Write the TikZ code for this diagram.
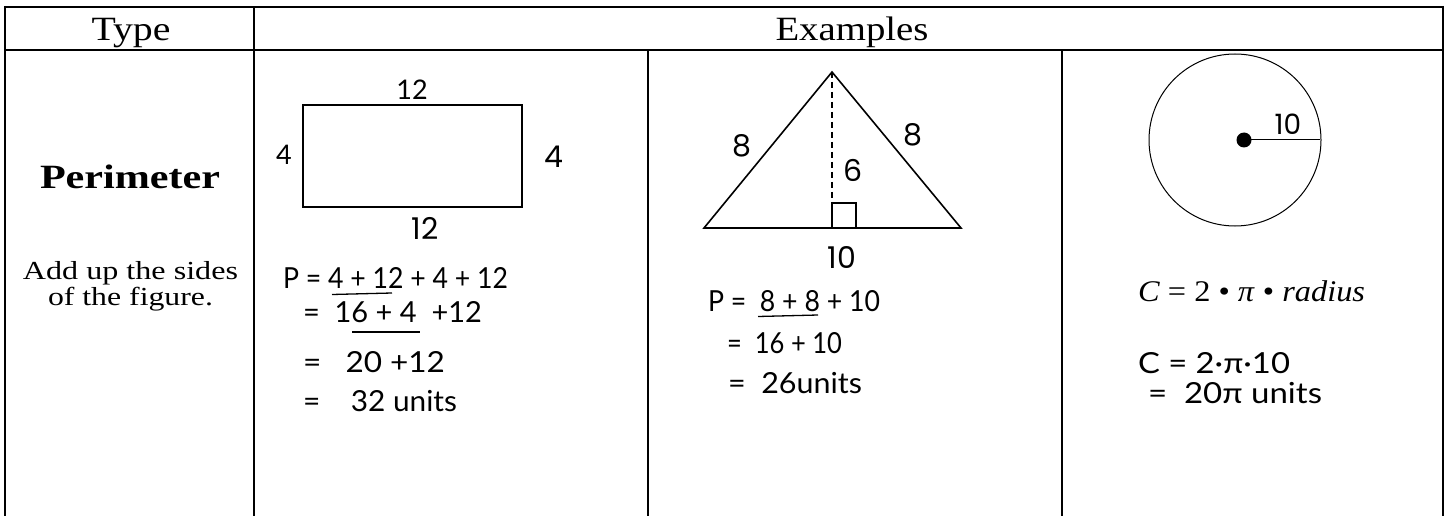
\documentclass[tikz,border=0pt]{standalone}
\usepackage{fontspec}
\usepackage{graphicx}
\setmainfont{Liberation Serif}
\newfontfamily\gothic{Poppins}
\newfontfamily\hand{Lato}
\newcommand{\fitw}[2]{\resizebox{#1pt}{\height}{#2}}
\begin{document}
\begin{tikzpicture}[x=1pt,y=-1pt,
  grid/.style={line width=1.6pt},
  txt/.style={inner sep=0pt,outer sep=0pt},
  hw/.style={txt,anchor=base west,font=\hand\fontsize{29}{29}\selectfont},
  hwc/.style={txt,anchor=center,font=\hand\fontsize{27}{27}\selectfont},
  num/.style={txt,anchor=center,font=\gothic\fontsize{30}{30}\selectfont},
  ser/.style={txt,anchor=base},
  figline/.style={line width=1.6pt}]
\useasboundingbox (0,0) rectangle (1449,516);
\fill[white] (0,0) rectangle (1449,516);
% table
\draw[grid] (5,7) -- (1443,7);
\draw[grid] (5,50) -- (1443,50);
\draw[line width=2.5pt] (5,6) -- (5,516);
\draw[grid] (254,7) -- (254,516);
\draw[grid] (648,50) -- (648,516);
\draw[grid] (1062,50) -- (1062,516);
\draw[grid] (1443,6) -- (1443,516);
% header
\node[ser,font=\fontsize{34}{34}\selectfont] (type) at (131,41) {\fitw{79}{Type}};
\node[ser,font=\fontsize{34}{34}\selectfont] (examples) at (852,41) {\fitw{153}{Examples}};
% left column
\node[ser,font=\bfseries\fontsize{34}{34}\selectfont] (perim) at (130,189) {\fitw{180}{Perimeter}};
\node[ser,font=\fontsize{26}{26}\selectfont] (add1) at (130.5,279) {\fitw{215}{Add up the sides}};
\node[ser,font=\fontsize{26}{26}\selectfont] (add2) at (130.5,305) {\fitw{165}{of the figure.}};
% rectangle example
\draw[figline] (303,105) rectangle (522,207);
\node[hwc] (r12t) at (412,90) {12};
\node[hwc] (r4l) at (284,155) {4};
\node[num] (r4r) at (554,157) {4};
\node[num] (r12b) at (425,228) {12};
\node[hw] (rl1) at (283,288) {\fitw{225}{P = 4 + 12 + 4 + 12}};
\node[hw] (rl2) at (303,322) {\fitw{179}{=\ \ 16 + 4 \ +12}};
\node[hw] (rl3) at (303,372) {\fitw{142}{=\ \ \ 20 +12}};
\node[hw] (rl4) at (303,411) {\fitw{154}{=\ \ \ \ 32 units}};
\coordinate (u1a) at (332,294.5);
\coordinate (u1b) at (392,293);
\coordinate (u2a) at (352,332);
\coordinate (u2b) at (420,332);
\draw[line width=1.3pt] (u1a) -- (u1b);
\draw[line width=1.3pt] (u2a) -- (u2b);
% triangle example
\coordinate (ta) at (704,228);
\coordinate (tb) at (832,72);
\coordinate (tc) at (961,228);
\coordinate (th) at (832,203);
\draw[figline,line join=miter] (ta) -- (tb) -- (tc) -- cycle;
\draw[line width=1.5pt,dash pattern=on 6pt off 4pt] (tb) -- (th);
\draw[figline] (th) rectangle (856,228);
\node[num] (t8l) at (742,146) {8};
\node[num] (t8r) at (913,135) {8};
\node[num] (t6) at (853,170) {6};
\node[num] (t10) at (842,257) {10};
\node[hw] (tl1) at (708,311) {\fitw{172}{P = \ 8 + 8 + 10}};
\node[hw] (tl2) at (727,353) {\fitw{115}{=\ \ 16 + 10}};
\node[hw] (tl3) at (728,393) {\fitw{134}{=\ \ 26units}};
\coordinate (u3a) at (758,316.5);
\coordinate (u3b) at (818,315);
\draw[line width=1.3pt] (u3a) -- (u3b);
% circle example
\coordinate (cc) at (1235,140);
\draw[line width=1pt] (cc) circle[radius=86];
\node[circle,fill=black,inner sep=0pt,minimum size=15pt] (dot) at (1244,140) {};
\coordinate (cr) at (1320,140);
\draw[line width=1pt] (dot.center) -- (cr);
\node[num,font=\gothic\fontsize{28}{28}\selectfont] (c10) at (1288,124) {10};
\node[ser,anchor=base west,font=\fontsize{30}{30}\selectfont] (cform) at (1138,301) {\fitw{227}{\textit{C} = 2 • \textit{π} • \textit{radius}}};
\node[hw] (cl1) at (1138,373) {\fitw{152}{C = 2·π·10}};
\node[hw] (cl2) at (1148,403) {\fitw{174}{=\ \ 20π units}};
\end{tikzpicture}
\end{document}
